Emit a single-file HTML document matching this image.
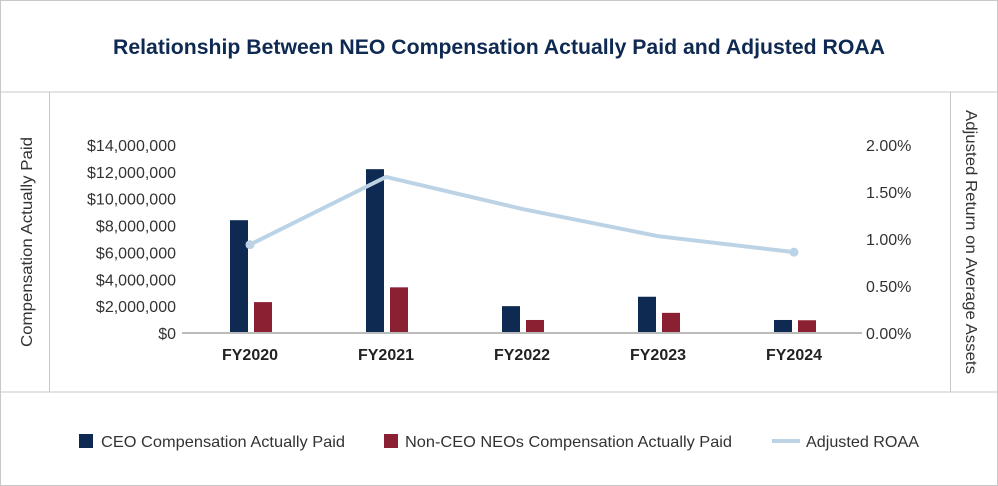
<!DOCTYPE html>
<html><head><meta charset="utf-8"><style>
html,body{margin:0;padding:0;background:#fff}
svg{display:block;font-family:"Liberation Sans Narrow","Liberation Sans",sans-serif}
</style></head><body>
<svg width="998" height="486" viewBox="0 0 998 486" id="chart">
<rect x="0.5" y="0.5" width="997" height="485" fill="#fff" stroke="#c8c8c8"/>
<line x1="0" y1="92" x2="998" y2="92" stroke="#c8c8c8"/>
<line x1="0" y1="392" x2="998" y2="392" stroke="#c8c8c8"/>
<line x1="49.5" y1="92" x2="49.5" y2="392" stroke="#c8c8c8"/>
<line x1="950.5" y1="92" x2="950.5" y2="392" stroke="#c8c8c8"/>
<text x="499" y="54" text-anchor="middle" font-size="21" font-weight="bold" fill="#0f2a52" textLength="772" lengthAdjust="spacingAndGlyphs">Relationship Between NEO Compensation Actually Paid and Adjusted ROAA</text>
<text transform="translate(32,242) rotate(-90)" text-anchor="middle" font-size="16" fill="#333" textLength="210" lengthAdjust="spacingAndGlyphs">Compensation Actually Paid</text>
<text transform="translate(966,242) rotate(90)" text-anchor="middle" font-size="16" fill="#333" textLength="264" lengthAdjust="spacingAndGlyphs">Adjusted Return on Average Assets</text>
<g id="plot"></g>
<rect x="79" y="434" width="14" height="14" fill="#0f2a52"/>
<text x="101" y="447" font-size="16" fill="#333" textLength="244" lengthAdjust="spacingAndGlyphs">CEO Compensation Actually Paid</text>
<rect x="384" y="434" width="14" height="14" fill="#8b2033"/>
<text x="405" y="447" font-size="16" fill="#333" textLength="327" lengthAdjust="spacingAndGlyphs">Non-CEO NEOs Compensation Actually Paid</text>
<line x1="772" y1="441" x2="800" y2="441" stroke="#bcd3e6" stroke-width="4"/>
<text x="806" y="447" font-size="16" fill="#333" textLength="113" lengthAdjust="spacingAndGlyphs">Adjusted ROAA</text>
</svg>
<script>
const categories = ["FY2020","FY2021","FY2022","FY2023","FY2024"];
const ceoValues = [8400000,12200000,2000000,2700000,970000];
const neoValues = [2300000,3400000,970000,1500000,950000];
const roaaValues = [0.94,1.66,1.32,1.03,0.86];
const leftTicks = [0,2000000,4000000,6000000,8000000,10000000,12000000,14000000];
const leftTickLabels = ["$0","$2,000,000","$4,000,000","$6,000,000","$8,000,000","$10,000,000","$12,000,000","$14,000,000"];
const rightTicks = [0,0.5,1,1.5,2];
const rightTickLabels = ["0.00%","0.50%","1.00%","1.50%","2.00%"];

const NS = "http://www.w3.org/2000/svg";
const g = document.getElementById("plot");
const x0 = 182, x1 = 862, yBase = 333, yTop = 145;
const yL = v => yBase - v / 14000000 * (yBase - yTop);
const yR = v => yBase - v / 2 * (yBase - yTop);
const band = (x1 - x0) / categories.length;
const xc = i => x0 + band * (i + 0.5);
function mk(tag, attrs){const e=document.createElementNS(NS,tag);for(const k in attrs)e.setAttribute(k,attrs[k]);g.appendChild(e);return e;}

leftTicks.forEach((t,i)=>{
  const e = mk("text",{x:176,y:yL(t)+6,"text-anchor":"end","font-size":"16",fill:"#333"});
  e.textContent = leftTickLabels[i];
  
  
});
rightTicks.forEach((t,i)=>{
  const e = mk("text",{x:866,y:yR(t)+6,"font-size":"16",fill:"#333"});
  e.textContent = rightTickLabels[i];
  
  
});
categories.forEach((c,i)=>{
  const cx = xc(i);
  const b1 = mk("rect",{x:cx-20,y:yL(ceoValues[i]),width:18,height:yBase-yL(ceoValues[i]),fill:"#0f2a52"});
  
  
  const b2 = mk("rect",{x:cx+4,y:yL(neoValues[i]),width:18,height:yBase-yL(neoValues[i]),fill:"#8b2033"});
  
  
  const t = mk("text",{x:cx,y:yBase+27,"text-anchor":"middle","font-size":"16","font-weight":"bold",fill:"#222"});
  t.textContent = c;
  
  
});
const ax = mk("line",{x1:x0,y1:yBase,x2:x1,y2:yBase,stroke:"#bbb","stroke-width":2});


const pts = roaaValues.map((v,i)=>[xc(i),yR(v)]);
const line = mk("polyline",{points:pts.map(p=>p.join(",")).join(" "),fill:"none",stroke:"#bcd3e6","stroke-width":4,"stroke-linejoin":"round"});


[0,pts.length-1].forEach(i=>{
  const c = mk("circle",{cx:pts[i][0],cy:pts[i][1],r:4.5,fill:"#bcd3e6"});
  
  
});
</script>
</body></html>
